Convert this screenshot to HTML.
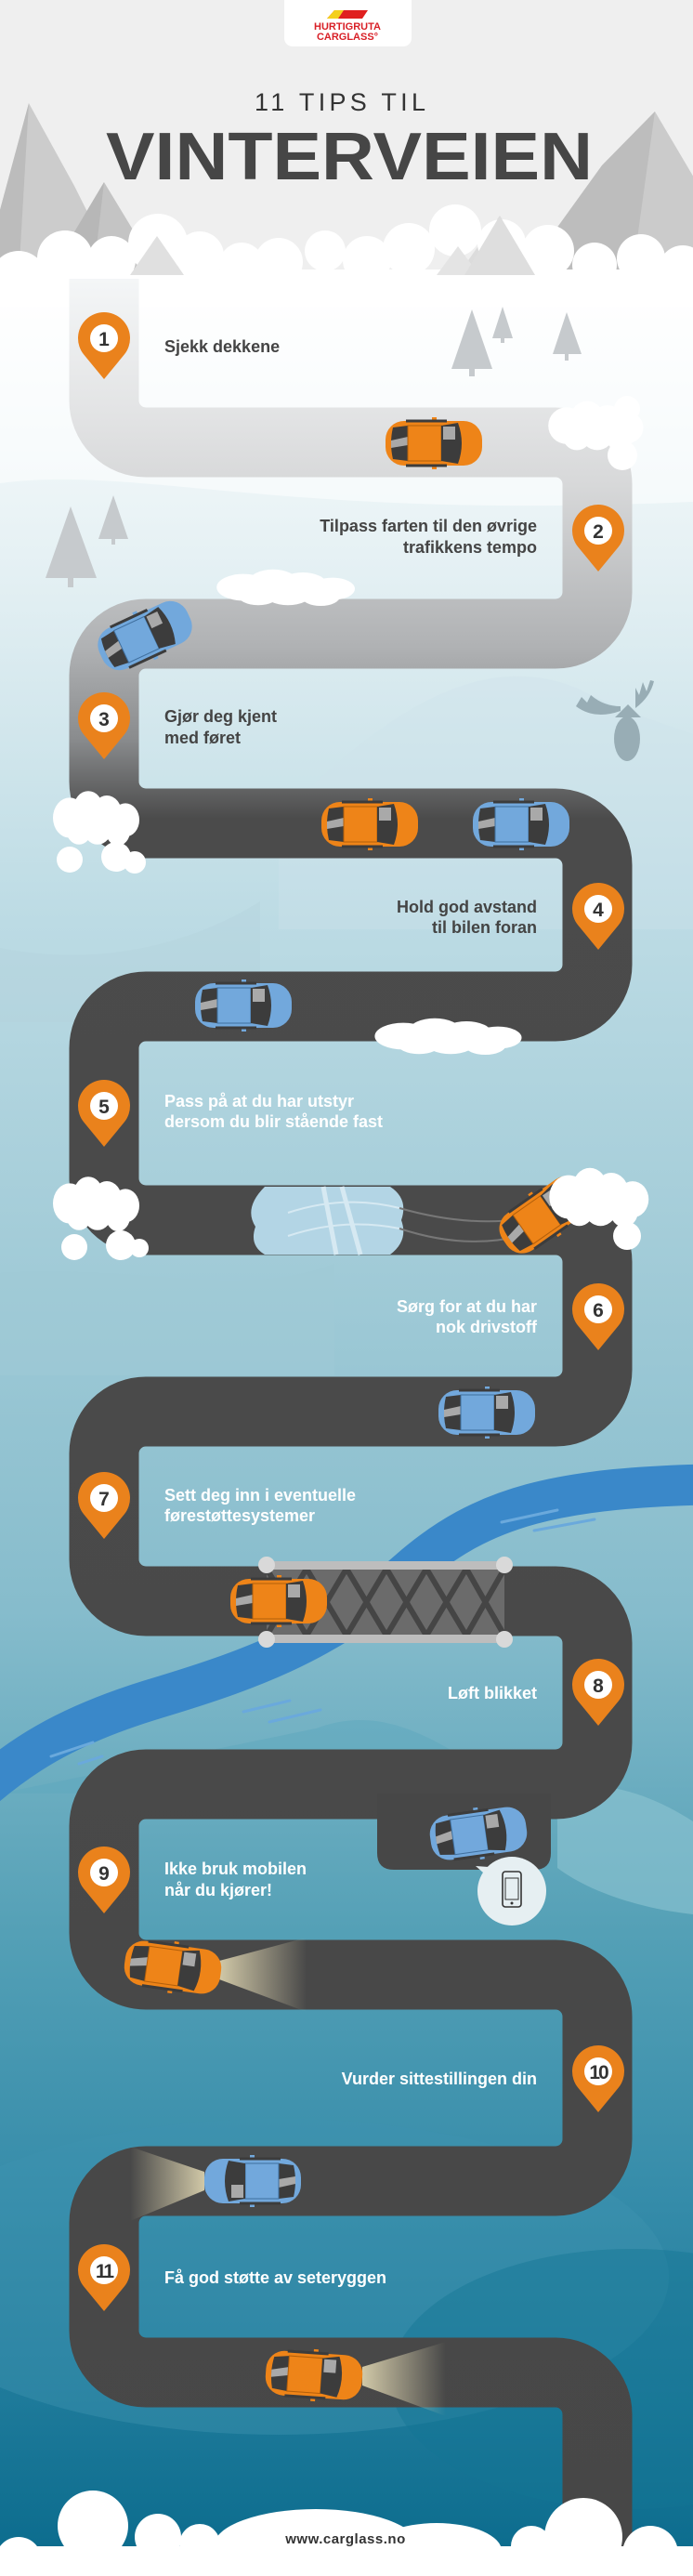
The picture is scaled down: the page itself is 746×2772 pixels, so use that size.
<!DOCTYPE html>
<html><head><meta charset="utf-8"><style>
html,body{margin:0;padding:0;}
body{width:746px;height:2772px;overflow:hidden;}
svg{display:block;}
.t{font-family:"Liberation Sans",sans-serif;font-weight:bold;font-size:18px;}
.d{fill:#444;}
.w{fill:#fff;}
.n{font-family:"Liberation Sans",sans-serif;font-weight:bold;font-size:21px;fill:#333;text-anchor:middle;}
</style></head><body>
<svg width="746" height="2772" viewBox="0 0 746 2772" xmlns="http://www.w3.org/2000/svg">
<defs>
<linearGradient id="bg" x1="0" y1="300" x2="0" y2="2772" gradientUnits="userSpaceOnUse">
<stop offset="0" stop-color="#ffffff"/>
<stop offset="0.12" stop-color="#e6f1f4"/>
<stop offset="0.28" stop-color="#bcdbe4"/>
<stop offset="0.42" stop-color="#a3ccd8"/>
<stop offset="0.58" stop-color="#86bccc"/>
<stop offset="0.72" stop-color="#54a0b6"/>
<stop offset="0.84" stop-color="#348ba9"/>
<stop offset="1" stop-color="#096a8c"/>
</linearGradient>
<linearGradient id="road" x1="0" y1="300" x2="0" y2="2772" gradientUnits="userSpaceOnUse">
<stop offset="0" stop-color="#f4f6f7"/>
<stop offset="0.06" stop-color="#e2e3e4"/>
<stop offset="0.09" stop-color="#d7d8d9"/>
<stop offset="0.16" stop-color="#b0b2b4"/>
<stop offset="0.2" stop-color="#8a8c8e"/>
<stop offset="0.235" stop-color="#4b4b4b"/>
<stop offset="1" stop-color="#474747"/>
</linearGradient>
<linearGradient id="beamR" x1="0" y1="0" x2="1" y2="0">
<stop offset="0" stop-color="#e9dfb8" stop-opacity="0.85"/>
<stop offset="1" stop-color="#e9dfb8" stop-opacity="0"/>
</linearGradient>
<linearGradient id="beamL" x1="1" y1="0" x2="0" y2="0">
<stop offset="0" stop-color="#e9dfb8" stop-opacity="0.85"/>
<stop offset="1" stop-color="#e9dfb8" stop-opacity="0"/>
</linearGradient>
<g id="carO">
<rect x="-52" y="-24" width="104" height="48" rx="20" fill="#ee8418"/>
<rect x="-2" y="-28" width="5" height="6" fill="#ee8418"/><rect x="-2" y="22" width="5" height="6" fill="#ee8418"/>
<path d="M-44,-17 L-28,-19 L-28,19 L-44,17 Q-48,0 -44,-17Z" fill="#3c3c3c"/>
<path d="M-46,-3 L-28,-7 L-28,2 L-46,5Z" fill="#a9a9a9"/>
<rect x="-28" y="-19" width="36" height="38" fill="#ee8418" stroke="#b35f0a" stroke-width="1"/>
<path d="M8,-19 L26,-22 Q34,0 26,22 L8,19Z" fill="#3c3c3c"/>
<rect x="10" y="-18" width="13" height="14" fill="#a9a9a9"/>
<path d="M-30,-24 L14,-24 M-30,24 L14,24" stroke="#3c3c3c" stroke-width="3"/>
</g>
<g id="carB">
<rect x="-52" y="-24" width="104" height="48" rx="20" fill="#72a8dc"/>
<rect x="-2" y="-28" width="5" height="6" fill="#72a8dc"/><rect x="-2" y="22" width="5" height="6" fill="#72a8dc"/>
<path d="M-44,-17 L-28,-19 L-28,19 L-44,17 Q-48,0 -44,-17Z" fill="#3c3c3c"/>
<path d="M-46,-3 L-28,-7 L-28,2 L-46,5Z" fill="#a9a9a9"/>
<rect x="-28" y="-19" width="36" height="38" fill="#72a8dc" stroke="#3f6f9e" stroke-width="1"/>
<path d="M8,-19 L26,-22 Q34,0 26,22 L8,19Z" fill="#3c3c3c"/>
<rect x="10" y="-18" width="13" height="14" fill="#a9a9a9"/>
<path d="M-30,-24 L14,-24 M-30,24 L14,24" stroke="#3c3c3c" stroke-width="3"/>
</g>
<g id="pin">
<path d="M-21.6,17.8 A28,28 0 1 1 21.6,17.8 L0,44 Z" fill="#ea821c"/>
<circle cx="0" cy="0" r="15" fill="#fff"/>
</g>
<g id="cloud" fill="#fff">
<circle cx="0" cy="0" r="18"/><circle cx="20" cy="-8" r="16"/><circle cx="40" cy="-4" r="16"/><circle cx="60" cy="2" r="15"/><circle cx="30" cy="8" r="16"/><circle cx="10" cy="10" r="14"/><circle cx="52" cy="12" r="13"/>
</g>
</defs>

<!-- background -->
<rect width="746" height="2772" fill="url(#bg)"/>
<rect width="746" height="300" fill="#efefef"/>
<!-- background waves -->
<path d="M0,520 C150,500 300,560 746,540 L746,300 L0,300Z" fill="#ffffff" opacity="0.5"/>
<path d="M300,880 C420,760 520,700 620,740 C680,770 720,780 746,790 L746,1000 L300,1000Z" fill="#cfe3ea" opacity="0.35"/>
<path d="M0,1020 C100,1040 200,1020 280,970 L280,1100 L0,1100Z" fill="#b5d3dd" opacity="0.4"/>
<path d="M0,1370 C150,1360 260,1400 360,1360 L360,1480 L0,1480Z" fill="#9fcad6" opacity="0.5"/>
<path d="M340,1860 C420,1830 480,1880 560,1930 L0,1930 Z" fill="#5ea8bd" opacity="0.5"/>
<path d="M600,1930 C640,1910 700,1930 746,1960 L746,2060 C700,2055 640,2040 600,2010Z" fill="#8ec4d2" opacity="0.6"/>
<ellipse cx="300" cy="2450" rx="420" ry="170" fill="#3e93b0" opacity="0.45"/>
<ellipse cx="680" cy="2560" rx="260" ry="140" fill="#137595" opacity="0.45"/>

<!-- mountains -->
<polygon points="-20,300 31,111 80,200 130,300" fill="#cccccc"/>
<polygon points="31,111 20,300 -20,300" fill="#bcbcbc"/>
<polygon points="50,300 112,196 175,300" fill="#c4c4c4"/>
<polygon points="112,196 100,300 50,300" fill="#b7b7b7"/>
<polygon points="560,300 648,178 705,120 770,230 770,300" fill="#cbcbcb"/>
<polygon points="705,120 680,300 560,300 648,178" fill="#bdbdbd"/>
<polygon points="138,300 169,254 200,300" fill="#dedede"/>
<polygon points="470,300 493,265 516,300" fill="#e2e2e2"/>
<polygon points="490,300 538,232 582,300" fill="#dcdcdc"/>
<!-- header clouds -->
<g fill="#fff">
<rect x="0" y="290" width="746" height="40"/>
<circle cx="20" cy="300" r="30"/><circle cx="70" cy="278" r="30"/><circle cx="120" cy="280" r="26"/>
<circle cx="170" cy="262" r="32"/><circle cx="215" cy="275" r="26"/><circle cx="260" cy="285" r="24"/>
<circle cx="300" cy="282" r="26"/><circle cx="350" cy="270" r="22"/><circle cx="395" cy="280" r="26"/>
<circle cx="440" cy="268" r="28"/><circle cx="490" cy="248" r="28"/><circle cx="540" cy="262" r="26"/>
<circle cx="590" cy="270" r="28"/><circle cx="640" cy="285" r="24"/><circle cx="690" cy="278" r="26"/><circle cx="735" cy="290" r="26"/>
</g>
<polygon points="140,296 169,254 198,296" fill="#e0e0e0"/>
<polygon points="470,296 493,265 516,296" fill="#e4e4e4"/>
<polygon points="500,296 538,232 576,296" fill="#dedede"/>

<!-- logo -->
<rect x="306" y="-12" width="137" height="62" rx="9" fill="#fff"/>
<polygon points="352,20 360,11 396,11 390,20" fill="#e0201f"/>
<polygon points="352,20 360,11 370,11 364,20" fill="#f4d01c"/>
<text x="374" y="32" text-anchor="middle" font-family="Liberation Sans,sans-serif" font-weight="bold" font-size="11" fill="#d81f26">HURTIGRUTA</text>
<text x="374" y="43" text-anchor="middle" font-family="Liberation Sans,sans-serif" font-weight="bold" font-size="11" fill="#d81f26">CARGLASS°</text>

<!-- title -->
<text x="369" y="119" text-anchor="middle" font-family="Liberation Sans,sans-serif" font-size="27" fill="#333" letter-spacing="6" textLength="190">11 TIPS TIL</text>
<text x="376" y="193" text-anchor="middle" font-family="Liberation Sans,sans-serif" font-weight="bold" font-size="72" fill="#464646" textLength="524" lengthAdjust="spacingAndGlyphs">VINTERVEIEN</text>

<!-- trees -->
<g fill="#c6cacd">
<polygon points="486,397 508,333 530,397"/><rect x="505" y="397" width="6" height="8"/>
<polygon points="530,364 541,330 552,364"/><rect x="539" y="364" width="4" height="5"/>
<polygon points="595,381 610,336 626,381"/><rect x="608" y="381" width="4" height="7"/>
<polygon points="49,622 76,545 104,622"/><rect x="73" y="622" width="6" height="10"/>
<polygon points="106,580 122,533 138,580"/><rect x="120" y="580" width="4" height="6"/>
</g>

<!-- river -->
<path d="M780,1597 C600,1600 520,1620 440,1690 C350,1770 260,1800 160,1830 C70,1858 20,1890 -30,1935" fill="none" stroke="#3a88c9" stroke-width="44"/>
<g stroke="#6aa9dc" stroke-width="3" fill="none" stroke-linecap="round">
<path d="M540,1638 L600,1625"/><path d="M575,1647 L640,1635"/>
<path d="M262,1842 L312,1830"/><path d="M290,1853 L345,1840"/>
<path d="M55,1890 L100,1875"/><path d="M85,1898 L110,1890"/>
</g>

<!-- road -->
<path d="M112,300 V431 A45,45 0 0 0 157,476 H598 A45,45 0 0 1 643,521 V637 A45,45 0 0 1 598,682 H157 A45,45 0 0 0 112,727 V841 A45,45 0 0 0 157,886 H598 A45,45 0 0 1 643,931 V1038 A45,45 0 0 1 598,1083 H157 A45,45 0 0 0 112,1128 V1268 A45,45 0 0 0 157,1313 H598 A45,45 0 0 1 643,1358 V1474 A45,45 0 0 1 598,1519 H157 A45,45 0 0 0 112,1564 V1678 A45,45 0 0 0 157,1723 H598 A45,45 0 0 1 643,1768 V1875 A45,45 0 0 1 598,1920 H157 A45,45 0 0 0 112,1965 V2080 A45,45 0 0 0 157,2125 H598 A45,45 0 0 1 643,2170 V2302 A45,45 0 0 1 598,2347 H157 A45,45 0 0 0 112,2392 V2508 A45,45 0 0 0 157,2553 H598 A45,45 0 0 1 643,2598 V2800" fill="none" stroke="url(#road)" stroke-width="75"/>
<path d="M406,1930 H593 V1994 Q593,2012 575,2012 H424 Q406,2012 406,1994Z" fill="#474747"/>

<!-- puddle -->
<path d="M285,1277 H420 Q440,1290 432,1313 Q440,1335 420,1350 H285 Q268,1340 275,1320 Q262,1300 285,1277Z" fill="#b3d5e5"/>
<path d="M348,1277 L362,1350 M368,1277 L388,1350" stroke="#d6e9f2" stroke-width="5"/>
<path d="M310,1305 Q370,1285 430,1300 M310,1330 Q370,1310 430,1322" stroke="#d6e9f2" stroke-width="2" fill="none"/>
<path d="M430,1300 Q500,1320 560,1312 M430,1322 Q500,1345 560,1330" stroke="#777" stroke-width="2" fill="none"/>

<!-- bridge -->
<rect x="287" y="1684" width="256" height="80" fill="#6b6b6b"/>
<path d="M287,1688 L330,1760 L373,1688 L416,1760 L459,1688 L502,1760 L543,1688 M287,1760 L330,1688 L373,1760 L416,1688 L459,1760 L502,1688 L543,1760" stroke="#454545" stroke-width="6" fill="none"/>
<rect x="287" y="1680" width="256" height="9" fill="#bdbdbd"/>
<rect x="287" y="1759" width="256" height="9" fill="#bdbdbd"/>
<g fill="#d9d9d9"><circle cx="287" cy="1684" r="9"/><circle cx="543" cy="1684" r="9"/><circle cx="287" cy="1764" r="9"/><circle cx="543" cy="1764" r="9"/></g>

<!-- beams -->
<polygon points="236,2110 330,2085 330,2165 236,2130" fill="url(#beamR)"/>
<polygon points="220,2337 140,2310 140,2390 220,2357" fill="url(#beamL)"/>
<polygon points="390,2547 480,2520 480,2600 390,2567" fill="url(#beamR)"/>

<!-- cars -->
<use href="#carO" x="467" y="477"/>
<use href="#carB" transform="translate(156,684) rotate(-25)"/>
<use href="#carO" x="398" y="887"/>
<use href="#carB" x="561" y="887"/>
<use href="#carB" x="262" y="1082"/>
<use href="#carO" transform="translate(586,1307) rotate(-35)"/>
<use href="#carB" x="524" y="1520"/>
<use href="#carO" x="300" y="1723"/>
<use href="#carB" transform="translate(515,1973) rotate(-8)"/>
<use href="#carO" transform="translate(186,2117) rotate(8)"/>
<use href="#carB" transform="translate(272,2347) rotate(180)"/>
<use href="#carO" transform="translate(338,2556) rotate(4)"/>

<!-- clouds -->
<use href="#cloud" transform="translate(610,458) scale(1.1)"/>
<circle cx="670" cy="490" r="16" fill="#fff"/><circle cx="675" cy="440" r="14" fill="#fff"/>
<use href="#cloud" transform="translate(262,632) scale(1.6,0.8)"/>
<use href="#cloud" transform="translate(75,880) scale(1,1.2)"/>
<circle cx="75" cy="925" r="14" fill="#fff"/><circle cx="125" cy="922" r="16" fill="#fff"/><circle cx="145" cy="928" r="12" fill="#fff"/>
<use href="#cloud" transform="translate(434,1115) scale(1.7,0.8)"/>
<use href="#cloud" transform="translate(75,1295) scale(1,1.2)"/>
<circle cx="80" cy="1342" r="14" fill="#fff"/><circle cx="130" cy="1340" r="16" fill="#fff"/><circle cx="150" cy="1343" r="10" fill="#fff"/>
<use href="#cloud" transform="translate(612,1288) scale(1.15,1.3)"/>
<circle cx="675" cy="1330" r="15" fill="#fff"/>

<!-- moose -->
<g fill="#98adb5">
<ellipse cx="675" cy="795" rx="14" ry="24"/>
<path d="M662,772 L676,758 L690,772 Z"/>
<path d="M620,760 Q640,775 668,765 L668,760 Q650,760 636,748 L632,756 L626,750Z"/>
<path d="M684,762 Q700,750 704,733 L700,732 L696,744 L692,734 L688,748 L684,740Z"/>
</g>

<!-- speech bubble -->
<path d="M512,2008 L528,2022 L540,2010Z" fill="#e6eff2"/>
<circle cx="551" cy="2035" r="37" fill="#e6eff2"/>
<rect x="541" y="2014" width="20" height="38" rx="3" fill="none" stroke="#333" stroke-width="1.6"/>
<rect x="544" y="2021" width="14" height="23" fill="none" stroke="#333" stroke-width="1"/>
<circle cx="551" cy="2048" r="1.5" fill="#333"/>

<!-- pins -->
<use href="#pin" x="112" y="364"/><text class="n" x="112" y="372">1</text>
<use href="#pin" x="644" y="571"/><text class="n" x="644" y="579">2</text>
<use href="#pin" x="112" y="773"/><text class="n" x="112" y="781">3</text>
<use href="#pin" x="644" y="978"/><text class="n" x="644" y="986">4</text>
<use href="#pin" x="112" y="1190"/><text class="n" x="112" y="1198">5</text>
<use href="#pin" x="644" y="1409"/><text class="n" x="644" y="1417">6</text>
<use href="#pin" x="112" y="1612"/><text class="n" x="112" y="1620">7</text>
<use href="#pin" x="644" y="1813"/><text class="n" x="644" y="1821">8</text>
<use href="#pin" x="112" y="2015"/><text class="n" x="112" y="2023">9</text>
<use href="#pin" x="644" y="2229"/><text class="n" x="644" y="2237" letter-spacing="-2">10</text>
<use href="#pin" x="112" y="2443"/><text class="n" x="112" y="2451" letter-spacing="-2">11</text>

<!-- texts -->
<text class="t d" x="177" y="379">Sjekk dekkene</text>
<text class="t d" x="578" y="572" text-anchor="end">Tilpass farten til den øvrige</text>
<text class="t d" x="578" y="595" text-anchor="end">trafikkens tempo</text>
<text class="t d" x="177" y="777">Gjør deg kjent</text>
<text class="t d" x="177" y="800">med føret</text>
<text class="t d" x="578" y="982" text-anchor="end">Hold god avstand</text>
<text class="t d" x="578" y="1004" text-anchor="end">til bilen foran</text>
<text class="t w" x="177" y="1191">Pass på at du har utstyr</text>
<text class="t w" x="177" y="1213">dersom du blir stående fast</text>
<text class="t w" x="578" y="1412" text-anchor="end">Sørg for at du har</text>
<text class="t w" x="578" y="1434" text-anchor="end">nok drivstoff</text>
<text class="t w" x="177" y="1615">Sett deg inn i eventuelle</text>
<text class="t w" x="177" y="1637">førestøttesystemer</text>
<text class="t w" x="578" y="1828" text-anchor="end">Løft blikket</text>
<text class="t w" x="177" y="2017" font-size="20">Ikke bruk mobilen</text>
<text class="t w" x="177" y="2040" font-size="20">når du kjører!</text>
<text class="t w" x="578" y="2243" text-anchor="end">Vurder sittestillingen din</text>
<text class="t w" x="177" y="2457">Få god støtte av seteryggen</text>

<!-- bottom clouds -->
<g fill="#fff">
<rect x="0" y="2740" width="746" height="40"/>
<circle cx="20" cy="2755" r="25"/><circle cx="100" cy="2718" r="38"/><circle cx="170" cy="2730" r="25"/>
<circle cx="215" cy="2738" r="22"/><ellipse cx="340" cy="2740" rx="110" ry="40"/><ellipse cx="470" cy="2745" rx="70" ry="30"/>
<circle cx="572" cy="2740" r="22"/><circle cx="628" cy="2730" r="42"/><circle cx="700" cy="2748" r="30"/><circle cx="740" cy="2760" r="20"/>
</g>
<text x="372" y="2737" text-anchor="middle" font-family="Liberation Sans,sans-serif" font-weight="bold" font-size="15" fill="#333" letter-spacing="0.5">www.carglass.no</text>
</svg>
</body></html>
